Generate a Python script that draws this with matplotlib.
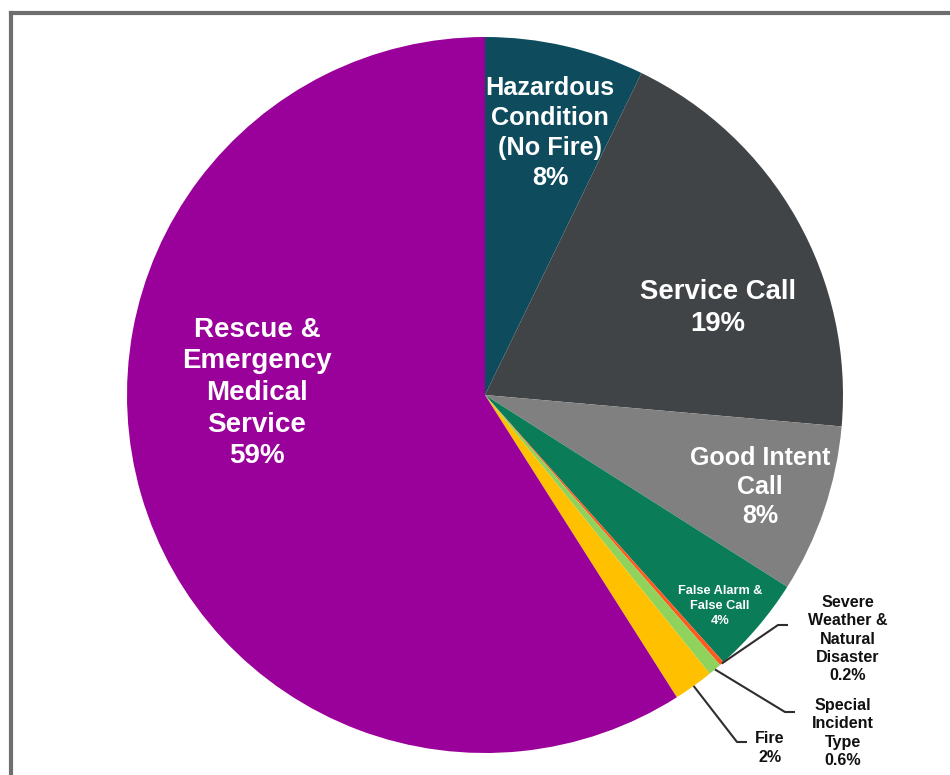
import numpy as np
import matplotlib
matplotlib.use("Agg")
import matplotlib.pyplot as plt
from matplotlib.lines import Line2D

categories = ["Hazardous Condition (No Fire)", "Service Call", "Good Intent Call",
              "False Alarm & False Call", "Severe Weather & Natural Disaster",
              "Special Incident Type", "Fire", "Rescue & Emergency Medical Service"]
values = [7.2, 19.2, 7.6, 4.4, 0.2, 0.6, 1.8, 59.0]
pct_labels = ["8%", "19%", "8%", "4%", "0.2%", "0.6%", "2%", "59%"]
colors = ["#0d4b5d", "#414446", "#808080", "#0b7c58", "#ff5a1f", "#8fd35c", "#ffc000", "#9a009a"]

W, H, DPI = 950, 775, 100
CX, CY, R = 485, 395, 358

def px(x, y):
    return ((x - CX) / R, (CY - y) / R)

def lsp(sp, fs):
    return sp / (0.9 * fs * DPI / 72)

plt.rcParams['font.family'] = ['Liberation Sans', 'DejaVu Sans']
fig = plt.figure(figsize=(W / DPI, H / DPI), dpi=DPI)
ax = fig.add_axes([0, 0, 1, 1])
wedges, _ = ax.pie(values, colors=colors, startangle=90, counterclock=False,
                   radius=1.0, center=(0, 0), wedgeprops=dict(linewidth=0))
ax.set_aspect('auto')
ax.set_xlim(-CX / R, (W - CX) / R)
ax.set_ylim((CY - H) / R, CY / R)
ax.axis('off')

# inside labels
inside = [
    (0, "Hazardous\nCondition\n(No Fire)", (550, 133), 18.2, 30),
    (1, "Service Call", (718, 308), 19.8, 33),
    (2, "Good Intent\nCall", (760, 487), 18.0, 28),
    (3, "False Alarm &\nFalse Call", (720, 606), 9.2, 15.5),
    (7, "Rescue &\nEmergency\nMedical\nService", (257, 393), 20.0, 32),
]
for i, name, (x, y), fs, sp in inside:
    tx, ty = px(x, y)
    ax.text(tx, ty, name + "\n" + pct_labels[i], ha='center', va='center',
            color='white', fontsize=fs, fontweight='bold', linespacing=lsp(sp, fs))

# outside labels with leader lines
outside = [
    (4, "Severe\nWeather &\nNatural\nDisaster", (848, 639), (778, 625), (788, 625)),
    (5, "Special\nIncident\nType", (843, 733), (785, 712), (795, 712)),
    (6, "Fire", (770, 748), (737, 742), (747, 742)),
]
cum = np.cumsum([0] + values)
total = cum[-1]
for i, name, (x, y), bend, end in outside:
    mid = 90 - 360 * (cum[i] + values[i] / 2) / total
    sx, sy = np.cos(np.radians(mid)), np.sin(np.radians(mid))
    bx, by = px(*bend)
    ex, ey = px(*end)
    ax.plot([sx, bx, ex], [sy, by, ey], color='#2e2e2e', lw=1.5, solid_capstyle='butt')
    fs = 11.6
    tx, ty = px(x, y)
    ax.text(tx, ty, name + "\n" + pct_labels[i], ha='center', va='center',
            color='#111111', fontsize=fs, fontweight='bold',
            linespacing=lsp(18.5, fs))

# frame
fig.add_artist(Line2D([11 / W, 11 / W], [0, 1 - 13 / H], transform=fig.transFigure,
                      color='#6e6e6e', lw=3, solid_capstyle='projecting'))
fig.add_artist(Line2D([11 / W, 1], [1 - 13 / H, 1 - 13 / H], transform=fig.transFigure,
                      color='#6e6e6e', lw=3, solid_capstyle='projecting'))

fig.savefig("out.png", dpi=DPI)
